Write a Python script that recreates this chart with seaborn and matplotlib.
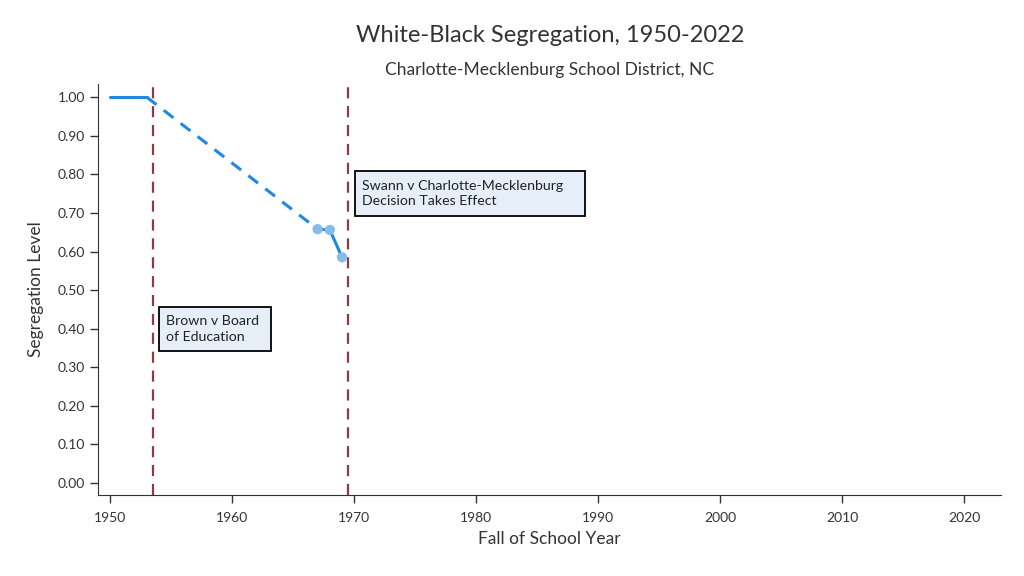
import matplotlib
matplotlib.use("Agg")
import matplotlib.pyplot as plt
from matplotlib.patches import Rectangle
import seaborn as sns

# Data
years_solid_a = [1950, 1951, 1952, 1953]
seg_solid_a = [1.00, 1.00, 1.00, 1.00]
years_gap = [1953, 1967]
seg_gap = [1.00, 0.658]
years_solid_b = [1967, 1968, 1969]
seg_solid_b = [0.658, 0.656, 0.585]
event_years = [1953.5, 1969.5]
event_labels = ["Brown v Board\nof Education", "Swann v Charlotte-Mecklenburg\nDecision Takes Effect"]
# annotation boxes: (x0, x1, y0, y1) in data units
event_boxes = [(1954.0, 1963.2, 0.342, 0.456), (1970.07, 1988.9, 0.692, 0.808)]
x_ticks = [1950, 1960, 1970, 1980, 1990, 2000, 2010, 2020]
y_ticks = [0.0, 0.1, 0.2, 0.3, 0.4, 0.5, 0.6, 0.7, 0.8, 0.9, 1.0]

sns.set_style("ticks")
plt.rcParams["font.family"] = ["Lato", "DejaVu Sans"]

LINE = "#1E88E5"
MARK = "#86BBEA"
EVENT = "#8E3B46"
TXT = "#333333"

fig = plt.figure(figsize=(10.24, 5.76), dpi=100)
ax = fig.add_axes([0.0957, 0.1406, 0.8818, 0.7134])

sns.lineplot(x=years_solid_a, y=seg_solid_a, ax=ax, color=LINE, lw=2.2)
sns.lineplot(x=years_gap, y=seg_gap, ax=ax, color=LINE, lw=2.2, linestyle=(0, (4, 3)))
sns.lineplot(x=years_solid_b, y=seg_solid_b, ax=ax, color=LINE, lw=2.2)
sns.scatterplot(x=years_solid_b, y=seg_solid_b, ax=ax, color=MARK, s=55,
                edgecolor="none", zorder=5)

for yr in event_years:
    ax.axvline(yr, color=EVENT, lw=1.6, linestyle=(0, (5, 3.5)), zorder=1)

for lab, (x0, x1, y0, y1) in zip(event_labels, event_boxes):
    ax.add_patch(Rectangle((x0, y0), x1 - x0, y1 - y0, facecolor="#E6EEF8",
                           edgecolor="black", lw=1.3, zorder=3))
    ax.text(x0 + 0.6, (y0 + y1) / 2, lab, fontsize=10.2, va="center", ha="left",
            color="#222222", linespacing=1.35, zorder=4)

ax.set_xlim(1949.0, 2023.0)
ax.set_ylim(-0.031, 1.034)
ax.set_xticks(x_ticks)
ax.set_yticks(y_ticks)
ax.set_yticklabels([f"{v:.2f}" for v in y_ticks])
ax.tick_params(axis="both", labelsize=10, length=6, width=1, colors=TXT,
               labelcolor=TXT)
ax.tick_params(axis="x", pad=6)
sns.despine(ax=ax)
for sp in ["left", "bottom"]:
    ax.spines[sp].set_color(TXT)

ax.set_xlabel("Fall of School Year", fontsize=12.5, color=TXT, labelpad=5)
ax.set_ylabel("Segregation Level", fontsize=12.5, color=TXT, labelpad=10)

fig.text(0.537, 0.938, "White-Black Segregation, 1950-2022", ha="center", va="center",
         fontsize=17, color=TXT)
fig.text(0.537, 0.878, "Charlotte-Mecklenburg School District, NC", ha="center",
         va="center", fontsize=12.5, color=TXT)

fig.savefig("out.png", dpi=100)
